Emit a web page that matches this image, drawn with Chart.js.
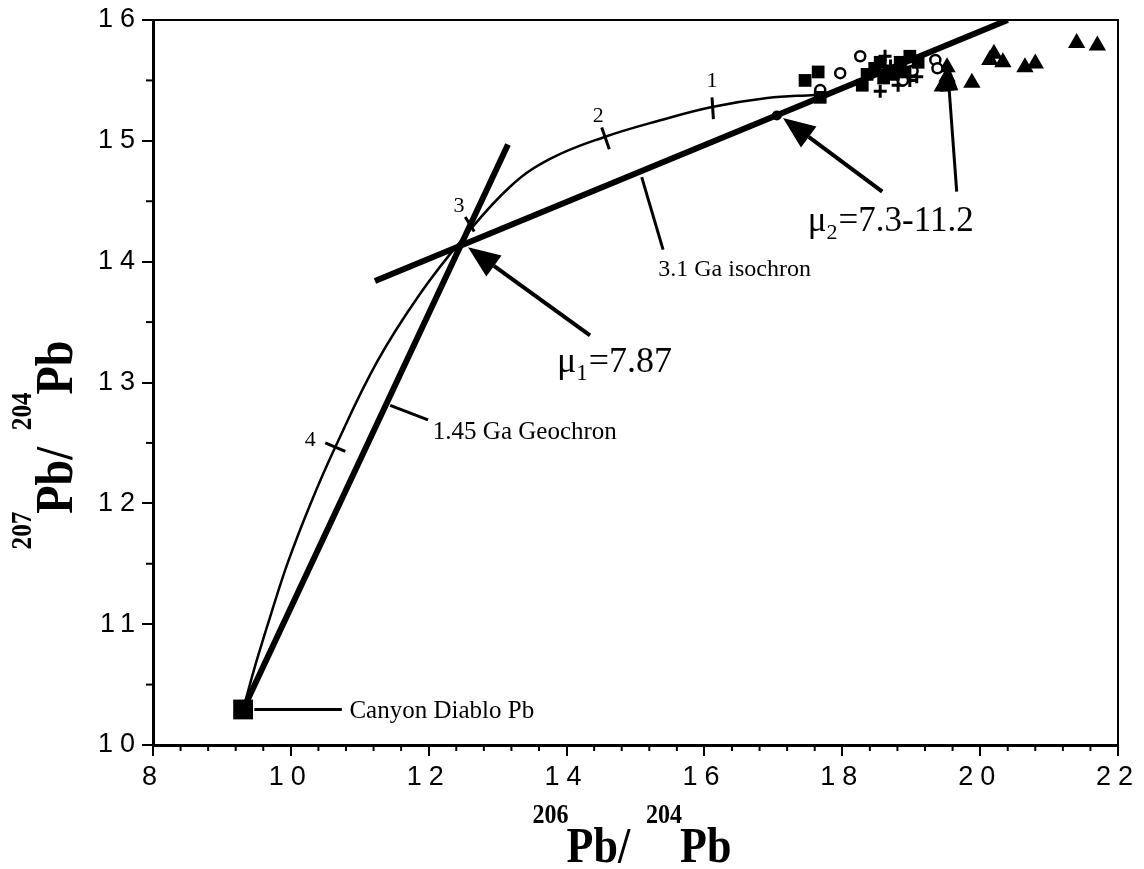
<!DOCTYPE html>
<html>
<head>
<meta charset="utf-8">
<script src="https://cdn.jsdelivr.net/npm/chart.js@4.4.1/dist/chart.umd.min.js"></script>
<style>
  html, body { margin: 0; padding: 0; background: #fff; }
  #wrap { width: 1144px; height: 869px; position: relative; }
</style>
</head>
<body>
<div id="wrap"><canvas id="chart"></canvas></div>
<script>
'use strict';

// ------------------------------- Data ------------------------------//
// Canyon Diablo troilite lead (starting point)
const cdX = [9.307];
const cdY = [10.294];

// single-stage growth curve from Canyon Diablo
const growthX = [9.307, 9.494, 9.712, 9.959, 10.278, 10.64, 11.25, 11.87, 12.48, 13.18, 13.76, 14.54, 15.36, 16.11, 16.91, 17.60];
const growthY = [10.294, 10.679, 11.084, 11.515, 11.987, 12.46, 13.17, 13.73, 14.18, 14.62, 14.85, 15.03, 15.17, 15.28, 15.355, 15.38];

// 1.45 Ga geochron and 3.1 Ga isochron
const geoX = [9.307, 13.15];
const geoY = [10.294, 14.97];
const isoX = [11.22, 20.4];
const isoY = [13.84, 16.0];

// age ticks on the growth curve (Ga)
const ageLabels = ['4', '3', '2', '1'];
const ageTickX0 = [10.50, 12.53, 14.51, 16.11];
const ageTickY0 = [12.50, 14.37, 15.11, 15.36];
const ageTickX1 = [10.79, 12.66, 14.62, 16.13];
const ageTickY1 = [12.43, 14.25, 14.93, 15.18];
const ageLabelX = [10.28, 12.44, 14.46, 16.11];
const ageLabelY = [12.52, 14.46, 15.20, 15.49];

// second stage point on the isochron
const mu2X = [17.05];
const mu2Y = [15.21];

// samples
const squareX = [17.46, 17.65, 17.68, 18.29, 18.36, 18.47, 18.55, 18.74, 18.84, 18.98, 19.10, 18.91, 18.60];
const squareY = [15.50, 15.57, 15.36, 15.46, 15.55, 15.60, 15.65, 15.55, 15.65, 15.70, 15.65, 15.57, 15.52];
const circleX = [17.68, 17.97, 18.26, 19.35, 19.38, 18.88, 19.02];
const circleY = [15.42, 15.56, 15.70, 15.67, 15.60, 15.50, 15.58];
const crossX = [18.55, 18.62, 18.81, 18.98, 19.08, 18.70];
const crossY = [15.41, 15.70, 15.46, 15.50, 15.53, 15.62];
const triangleX = [19.52, 19.52, 19.45, 19.88, 20.14, 20.20, 20.33, 20.65, 20.80, 21.40, 21.70];
const triangleY = [15.61, 15.53, 15.45, 15.48, 15.67, 15.72, 15.65, 15.61, 15.64, 15.81, 15.79];

// axis ticks
const xMajor = [8, 10, 12, 14, 16, 18, 20, 22];
const yMajor = [10, 11, 12, 13, 14, 15, 16];

// ------------------------------- Helpers ------------------------------//
function pts(xs, ys) {
  return xs.map((x, i) => ({ x: x, y: ys[i] }));
}

const serif = '"Liberation Serif", "Times New Roman", serif';

function pointSet(label, xs, ys, style, radius, filled, border) {
  return {
    label: label,
    data: pts(xs, ys),
    showLine: false,
    pointStyle: style,
    pointRadius: radius,
    pointBackgroundColor: filled ? '#000' : '#fff',
    pointBorderColor: '#000',
    pointBorderWidth: border
  };
}

function lineSet(label, xs, ys, width, tension) {
  return {
    label: label,
    data: pts(xs, ys),
    showLine: true,
    borderColor: '#000',
    borderWidth: width,
    pointRadius: 0,
    tension: tension || 0,
    borderCapStyle: 'butt'
  };
}

const ageTickSets = ageLabels.map((a, i) =>
  lineSet(a + ' Ga', [ageTickX0[i], ageTickX1[i]], [ageTickY0[i], ageTickY1[i]], 3));

// ------------------------------- Plugin: frame, minor ticks, notes ------------------------------//
function arrow(ctx, x0, y0, x1, y1, width, head, half) {
  const a = Math.atan2(y1 - y0, x1 - x0);
  const bx = x1 - head * Math.cos(a);
  const by = y1 - head * Math.sin(a);
  ctx.lineWidth = width;
  ctx.beginPath();
  ctx.moveTo(x0, y0);
  ctx.lineTo(bx, by);
  ctx.stroke();
  ctx.beginPath();
  ctx.moveTo(x1, y1);
  ctx.lineTo(bx + half * Math.sin(a), by - half * Math.cos(a));
  ctx.lineTo(bx - half * Math.sin(a), by + half * Math.cos(a));
  ctx.closePath();
  ctx.fill();
}

function segment(ctx, x0, y0, x1, y1, width) {
  ctx.lineWidth = width;
  ctx.beginPath();
  ctx.moveTo(x0, y0);
  ctx.lineTo(x1, y1);
  ctx.stroke();
}

// draws "sup main sup main" pieces centred on the current origin
function isotopeTitle(ctx, parts) {
  let total = 0;
  for (const p of parts) {
    ctx.font = p.font;
    p.w = ctx.measureText(p.text).width;
    total += p.w + p.gap;
  }
  let x = -total / 2;
  for (const p of parts) {
    ctx.font = p.font;
    ctx.fillText(p.text, x, p.dy);
    x += p.w + p.gap;
  }
}

function titleParts(top) {
  return [
    { text: top, font: 'bold 24px ' + serif, dy: -34, gap: -2 },
    { text: 'Pb/', font: 'bold 44px ' + serif, dy: 0, gap: 16 },
    { text: '204', font: 'bold 24px ' + serif, dy: -34, gap: -2 },
    { text: 'Pb', font: 'bold 44px ' + serif, dy: 0, gap: 0 }
  ];
}

const decor = {
  id: 'decor',
  beforeDraw(chart) {
    chart.ctx.letterSpacing = '7px';
  },
  beforeDatasetsDraw(chart) {
    const ctx = chart.ctx;
    const area = chart.chartArea;
    const xs = chart.scales.x;
    const ys = chart.scales.y;
    ctx.save();
    ctx.letterSpacing = '0px';
    ctx.strokeStyle = '#000';
    // top and right frame
    segment(ctx, area.left, area.top, area.right + 1, area.top, 2);
    segment(ctx, area.right, area.top, area.right, area.bottom, 2);
    // minor ticks
    for (let k = 1; k < 35; k++) {
      if (k % 5 === 0) continue;
      const px = xs.getPixelForValue(8 + k * 0.4);
      segment(ctx, px, area.bottom, px, area.bottom + 6, 2);
    }
    for (let v = 10.5; v < 16; v += 1) {
      const py = ys.getPixelForValue(v);
      segment(ctx, area.left - 7, py, area.left, py, 2);
    }
    ctx.restore();
    ctx.letterSpacing = '0px';
  },
  afterDatasetsDraw(chart) {
    const ctx = chart.ctx;
    const xs = chart.scales.x;
    const ys = chart.scales.y;
    const X = v => xs.getPixelForValue(v);
    const Y = v => ys.getPixelForValue(v);
    ctx.save();
    ctx.letterSpacing = '0px';
    ctx.fillStyle = '#000';
    ctx.strokeStyle = '#000';
    ctx.lineCap = 'butt';

    // leader lines
    segment(ctx, X(9.47), Y(10.294), X(10.74), Y(10.294), 3);
    segment(ctx, X(11.44), Y(12.81), X(11.99), Y(12.69), 3);
    segment(ctx, X(15.09), Y(14.70), X(15.40), Y(14.10), 3);

    // arrows
    arrow(ctx, X(14.34), Y(13.39), X(12.57), Y(14.12), 4, 32, 13);
    arrow(ctx, X(18.58), Y(14.58), X(17.14), Y(15.19), 4, 32, 13);
    arrow(ctx, X(19.66), Y(14.58), X(19.52), Y(15.66), 3, 30, 9);

    // labels
    ctx.textBaseline = 'alphabetic';
    ctx.textAlign = 'left';
    ctx.font = '25px ' + serif;
    ctx.fillText('Canyon Diablo Pb', X(10.85), Y(10.294) + 9);
    ctx.fillText('1.45 Ga Geochron', X(12.06), Y(12.59) + 7);
    ctx.font = '24px ' + serif;
    ctx.fillText('3.1 Ga isochron', X(15.33), Y(13.95) + 8);

    ctx.font = '36px ' + serif;
    let x0 = X(13.86);
    ctx.fillText('\u03bc', x0, 372);
    x0 += ctx.measureText('\u03bc').width;
    ctx.font = '23px ' + serif;
    ctx.fillText('1', x0, 380);
    x0 += ctx.measureText('1').width + 1;
    ctx.font = '36px ' + serif;
    ctx.fillText('=7.87', x0, 372);

    ctx.font = '35px ' + serif;
    x0 = X(17.50);
    ctx.fillText('\u03bc', x0, 231);
    x0 += ctx.measureText('\u03bc').width;
    ctx.font = '22px ' + serif;
    ctx.fillText('2', x0, 239);
    x0 += ctx.measureText('2').width + 1;
    ctx.font = '35px ' + serif;
    ctx.fillText('=7.3-11.2', x0, 231);

    // age labels on the growth curve
    ctx.font = '22px ' + serif;
    ctx.textAlign = 'center';
    ctx.textBaseline = 'middle';
    ageLabels.forEach((a, i) => ctx.fillText(a, X(ageLabelX[i]), Y(ageLabelY[i])));

    // axis titles
    ctx.textAlign = 'left';
    ctx.textBaseline = 'alphabetic';
    ctx.save();
    ctx.translate(632, 862);
    ctx.scale(1, 1.15);
    isotopeTitle(ctx, titleParts('206'));
    ctx.restore();

    ctx.save();
    ctx.translate(72, 445);
    ctx.rotate(-Math.PI / 2);
    ctx.scale(1.05, 1.2);
    isotopeTitle(ctx, titleParts('207'));
    ctx.restore();

    ctx.restore();
  }
};

// ------------------------------- Chart ------------------------------//
const tickFont = { family: '"Liberation Sans", Arial, sans-serif', size: 27 };

new Chart(document.getElementById('chart'), {
  type: 'scatter',
  data: {
    datasets: [
      pointSet('Canyon Diablo', cdX, cdY, 'rect', 14, true, 0),
      pointSet('mu2', mu2X, mu2Y, 'circle', 5, true, 0),
      pointSet('squares', squareX, squareY, 'rect', 9, true, 0),
      pointSet('circles', circleX, circleY, 'circle', 5, false, 2.5),
      pointSet('crosses', crossX, crossY, 'cross', 6.5, true, 3),
      pointSet('triangles', triangleX, triangleY, 'triangle', 10, true, 0),
      ...ageTickSets,
      lineSet('3.1 Ga isochron', isoX, isoY, 6),
      lineSet('1.45 Ga Geochron', geoX, geoY, 6),
      lineSet('growth curve', growthX, growthY, 2.5, 0.4)
    ]
  },
  options: {
    responsive: true,
    maintainAspectRatio: false,
    animation: false,
    events: [],
    layout: { padding: { top: 20, right: 26, left: 0, bottom: 0 } },
    plugins: {
      legend: { display: false },
      tooltip: { enabled: false }
    },
    scales: {
      x: {
        type: 'linear',
        min: 8,
        max: 22,
        afterFit: s => { s.height = 124; },
        afterBuildTicks: s => { s.ticks = xMajor.map(v => ({ value: v })); },
        ticks: { font: tickFont, color: '#000', padding: 5, maxRotation: 0 },
        grid: { drawOnChartArea: false, drawTicks: true, tickLength: 11, color: '#000', lineWidth: 2 },
        border: { display: true, color: '#000', width: 3 }
      },
      y: {
        type: 'linear',
        min: 10,
        max: 16,
        afterFit: s => { s.width = 153; },
        afterBuildTicks: s => { s.ticks = yMajor.map(v => ({ value: v })); },
        ticks: { font: tickFont, color: '#000', padding: 0 },
        grid: { drawOnChartArea: false, drawTicks: true, tickLength: 11, color: '#000', lineWidth: 2 },
        border: { display: true, color: '#000', width: 3 }
      }
    }
  },
  plugins: [decor]
});
</script>
</body>
</html>
